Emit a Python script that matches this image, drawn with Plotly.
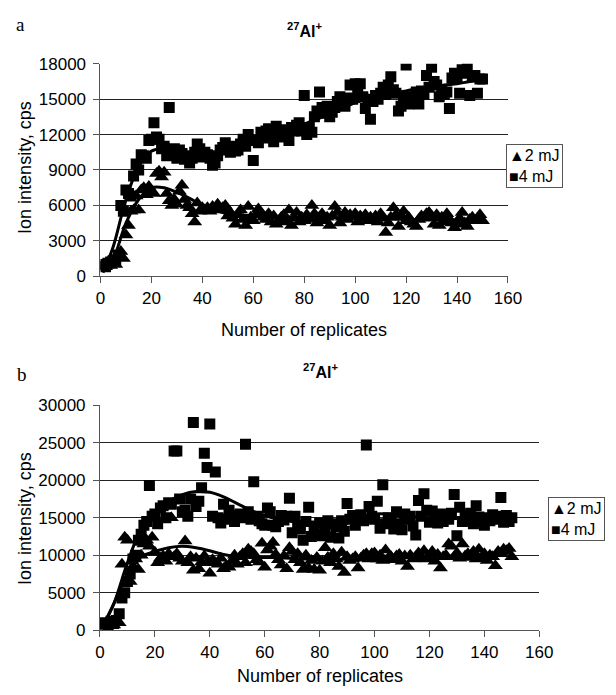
import plotly.graph_objects as go

W, H = 616, 695

replicates = list(range(1, 151))

a_2mJ = [1000, 800, 1200, 900, 1300, 1000, 1600, 2100, 1500, 3500,
         4300, 5500, 5600, 6800, 5600, 7300, 7500, 6900, 7600, 7200,
         7000, 8700, 8900, 8400, 8800, 7000, 6400, 6000, 6500, 6100,
         7200, 7700, 6500, 6000, 5800, 5300, 4600, 6200, 5500, 5800,
         5600, 5800, 5500, 5900, 5700, 6100, 5600, 5800, 6000, 5100,
         5400, 4900, 4400, 5200, 5600, 4800, 4300, 5900, 5000, 4700,
         5200, 5700, 5400, 5000, 4800, 5300, 4600, 5100, 4400, 4700,
         5000, 5200, 4600, 5600, 4300, 4900, 5400, 4600, 5000, 4700,
         5200, 4800, 6000, 5300, 4500, 5000, 5300, 4700, 5000, 4300,
         5100, 5900, 5400, 4500, 5000, 5400, 4800, 5200, 5000, 5300,
         4600, 5100, 4900, 5200, 4700, 5000, 4800, 5100, 4600, 5300,
         4900, 3700, 4500, 5000, 5800, 5200, 4200, 5100, 5500, 4700,
         5000, 4600, 4400, 4200, 4800, 5100, 4900, 5300, 5400, 5100,
         4400, 5200, 4300, 5000, 4600, 5300, 4800, 4500, 4100, 4400,
         4900, 5400, 4500, 4200, 4800, 5000, 4700, 4900, 5200, 4700]

a_4mJ = [1000, 800, 1100, 1200, 1300, 1400, 1800, 6000, 5500, 7300,
         7000, 6800, 8500, 9500, 9000, 10300, 10200, 10000, 11500, 11600,
         13000, 11800, 11600, 10800, 11000, 10200, 14300, 10500, 10800, 10000,
         10700, 10400, 9900, 10200, 9600, 10000, 10500, 11200, 10800, 10100,
         10500, 10300, 10000, 9400, 9600, 10200, 10700, 10900, 11300, 10800,
         10500, 11000, 10600, 10700, 11200, 11600, 11000, 12000, 11500, 9800,
         11500, 11300, 12200, 11700, 12300, 12500, 12000, 11400, 12700, 11800,
         12400, 11900, 12200, 11500, 12600, 12300, 12800, 13000, 12300, 15300,
         12000, 12600, 12200, 13500, 14000, 15600, 14300, 13800, 14400, 13500,
         13900, 14300, 14800, 15200, 14600, 14400, 15100, 16200, 15000, 16300,
         15600, 16300, 15200, 14200, 15000, 13300, 14800, 15300, 15000, 15500,
         16000, 15400, 16200, 16900, 15800, 15500, 14000, 14400, 15200, 17900,
         14600, 15200, 15000, 15600, 14600, 15700, 15400, 17000, 16000, 17700,
         16500, 16200, 15200, 15700, 15400, 15600, 14200, 16800, 17200, 16800,
         15500, 17500, 17200, 17600, 15300, 16900, 17000, 15500, 16700, 16700]

b_2mJ = [800, 600, 1000, 900, 700, 1200, 1000, 8800, 12400, 12000,
         6500, 8500, 9500, 8100, 10000, 11500, 12000, 11200, 12400, 10400,
         9000, 9600, 9900, 9200, 10200, 15000, 9800, 10200, 9600, 9200,
         11900, 9000, 9800, 8000, 9600, 8200, 9100, 9900, 9000, 7600,
         9400, 9000, 8800, 9600, 8200, 8600, 8400, 9200, 10000, 8800,
         9800, 10200, 9000, 10800, 10500, 10200, 9400, 9100, 11600, 8400,
         10700, 11200, 11700, 10100, 9400, 8700, 9900, 8200, 11000, 10500,
         9400, 10200, 9000, 8100, 10000, 8300, 9300, 8100, 9700, 8000,
         9200, 11000, 9700, 9000, 10200, 9500, 8500, 10400, 7700, 9800,
         9300, 9500, 9800, 8300, 9600, 10000, 10200, 9500, 10200, 10300,
         9500, 10000, 9300, 10700, 9600, 9800, 9400, 9900, 10100, 9200,
         9900, 8500, 10000, 9500, 9800, 10300, 9600, 10600, 9500, 9900,
         10500, 9200, 10100, 8300, 9800, 10000, 11500, 11200, 9800, 10300,
         9600, 11500, 9900, 10200, 9700, 10500, 9500, 10800, 9600, 10200,
         9300, 10000, 9800, 8600, 10500, 10200, 10800, 10600, 10900, 9800]

b_4mJ = [800, 1000, 600, 1200, 900, 1300, 2200, 4300, 5000, 6500,
         7500, 9500, 10000, 12000, 12800, 14000, 14500, 19300, 15200, 15500,
         14200, 16300, 16600, 15000, 17000, 16800, 23900, 23900, 17500, 15800,
         16000, 15200, 17500, 27700, 16500, 17200, 19000, 23600, 21700, 27500,
         15200, 21100, 15000, 14300, 16800, 14800, 16000, 15200, 14500, 15300,
         15500, 15000, 24800, 15800, 14800, 19800, 15200, 14600, 14200, 14000,
         16300, 15800, 14000, 13800, 14500, 15300, 14700, 15200, 17600, 13000,
         15200, 14000, 13500, 12000, 14500, 16400, 12500, 13900, 12800, 14300,
         12600, 13500, 14600, 12400, 14200, 13800, 12300, 14600, 13200, 16900,
         14800, 15300, 14000, 15000, 15400, 14600, 24700, 16500, 15200, 14800,
         17200, 13600, 19400, 14200, 15000, 14400, 13500, 15800, 14200, 13400,
         15500, 14800, 15200, 13900, 12700, 17300, 15200, 18200, 16000, 14400,
         15900, 15000, 14300, 15500, 14500, 15200, 14800, 15600, 18100, 12600,
         16400, 14500, 15300, 14800, 15600, 14200, 16600, 15100, 14500, 14000,
         15000, 14600, 15400, 14800, 15200, 17700, 14400, 15300, 14500, 15000]

trend_x = [1] + list(range(5, 151, 5))
a_trend_2mJ = [500, 1500, 4500, 6500, 7500, 7500, 7100, 6600, 6000, 5600, 5300,
               5200, 5100, 5050, 5000, 5000, 5000, 5000, 4950, 4950, 4900,
               4900, 4850, 4850, 4800, 4800, 4800, 4800, 4750, 4750, 4750]
a_trend_4mJ = [300, 2500, 6500, 9300, 10600, 10800, 10500, 10300, 10300, 10400, 10700,
               11000, 11400, 11800, 12100, 12500, 12900, 13300, 13800, 14200, 14700,
               15000, 15300, 15500, 15700, 15900, 16000, 16200, 16300, 16500, 16600]
b_trend_2mJ = [500, 3500, 7500, 9800, 10500, 11000, 11200, 11000, 10600, 10100, 9800,
               9700, 9700, 9700, 9600, 9500, 9400, 9400, 9500, 9600, 9800,
               9900, 9900, 9900, 9900, 9900, 9900, 10000, 10100, 10200, 10300]
b_trend_4mJ = [500, 3500, 9000, 13500, 15800, 17200, 18100, 18500, 18400, 17800, 16900,
               16000, 15300, 14800, 14500, 14200, 14000, 14000, 14300, 15000, 15500,
               15500, 15300, 15100, 15000, 14900, 14900, 15000, 15000, 15000, 15000]

x_ticks = [0, 20, 40, 60, 80, 100, 120, 140, 160]
a_yticks = [0, 3000, 6000, 9000, 12000, 15000, 18000]
b_yticks = [0, 5000, 10000, 15000, 20000, 25000, 30000]


def px(x):
    return x / W


def py(y):
    return 1 - y / H


fig = go.Figure()

panels = [
    ("x", "y", a_2mJ, a_4mJ, a_trend_2mJ, a_trend_4mJ),
    ("x2", "y2", b_2mJ, b_4mJ, b_trend_2mJ, b_trend_4mJ),
]
for xa, ya, s2, s4, t2, t4 in panels:
    fig.add_trace(go.Scatter(x=replicates, y=s2, mode="markers", xaxis=xa, yaxis=ya,
                             marker=dict(symbol="triangle-up", size=13, color="black"),
                             showlegend=False))
    fig.add_trace(go.Scatter(x=replicates, y=s4, mode="markers", xaxis=xa, yaxis=ya,
                             marker=dict(symbol="square", size=11, color="black"),
                             showlegend=False))
    for t in (t2, t4):
        fig.add_trace(go.Scatter(x=trend_x, y=t, mode="lines", xaxis=xa, yaxis=ya,
                                 line=dict(color="black", width=3, shape="spline"),
                                 showlegend=False))

tick_font = dict(family="Liberation Sans, Arial, sans-serif", size=17, color="black")
xcommon = dict(range=[0, 160], tickvals=x_ticks, showline=True, linecolor="#555",
               linewidth=1, ticks="outside", ticklen=6, tickcolor="#555",
               showgrid=False, zeroline=False, tickfont=tick_font, fixedrange=True)
ycommon = dict(showline=True, linecolor="#555", linewidth=1, ticks="outside",
               ticklen=6, tickcolor="#555", showgrid=True, gridcolor="#222",
               gridwidth=1, zeroline=False, tickfont=tick_font, ticklabelstandoff=4,
               tickformat="d")

fig.update_layout(
    width=W, height=H, margin=dict(l=0, r=0, t=0, b=0),
    paper_bgcolor="white", plot_bgcolor="white",
    xaxis=dict(domain=[px(98.5), px(519)], anchor="y", **xcommon),
    yaxis=dict(domain=[py(274.7), py(56.3)], anchor="x", range=[0, 18000],
               tickvals=a_yticks, ticktext=[str(v) for v in a_yticks], **ycommon),
    xaxis2=dict(domain=[px(98), px(551.3)], anchor="y2", **xcommon),
    yaxis2=dict(domain=[py(638.7), py(407.5)], anchor="x2", range=[0, 30000],
                tickvals=b_yticks, ticktext=[str(v) for v in b_yticks], **ycommon),
    showlegend=False,
)

anns = [
    dict(text="<b><sup>27</sup>Al<sup>+</sup></b>", x=px(309), y=py(22), size=16),
    dict(text="<b><sup>27</sup>Al<sup>+</sup></b>", x=px(326), y=py(372), size=16),
    dict(text="Number of replicates", x=px(309), y=py(330), size=18),
    dict(text="Number of replicates", x=px(325), y=py(686), size=18),
    dict(text="Ion intensity, cps", x=px(20), y=py(163), size=18, rot=-90),
    dict(text="Ion intensity, cps", x=px(20), y=py(524), size=18, rot=-90),
]
for a in anns:
    fig.add_annotation(text=a["text"], x=a["x"], y=a["y"], xref="paper", yref="paper",
                       showarrow=False, xanchor="center", yanchor="middle",
                       textangle=a.get("rot", 0),
                       font=dict(family="Liberation Sans, Arial, sans-serif",
                                 size=a["size"], color="black"))

for lab, x, y in (("a", 16, 16), ("b", 18, 376)):
    fig.add_annotation(text=lab, x=px(x), y=py(y), xref="paper", yref="paper",
                       showarrow=False, xanchor="center", yanchor="middle",
                       font=dict(family="Liberation Serif, Times New Roman, serif",
                                 size=19, color="black"))

for x0, y0 in ((517, 139), (560, 502)):
    fig.add_annotation(text="▲2 mJ<br>■4 mJ", x=px(x0), y=py(y0), xref="paper",
                       yref="paper", showarrow=False, xanchor="left", yanchor="top",
                       align="left", bordercolor="#555", borderwidth=1, borderpad=2,
                       bgcolor="white",
                       font=dict(family="Liberation Sans, Arial, sans-serif",
                                 size=16, color="black"))

fig.write_html("out.html")
